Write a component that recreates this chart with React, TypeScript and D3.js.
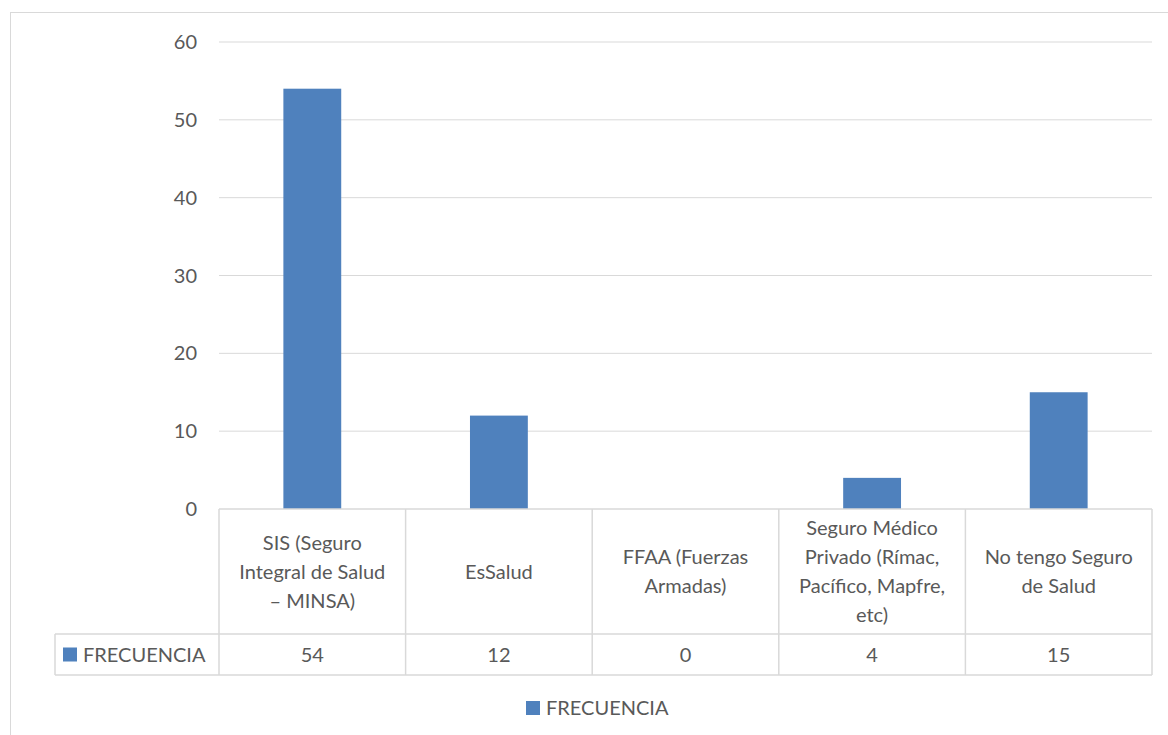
import * as React from "react";
import { scaleBand, scaleLinear } from "d3";

const categories = [
  ["SIS (Seguro", "Integral de Salud", "– MINSA)"],
  ["EsSalud"],
  ["FFAA (Fuerzas", "Armadas)"],
  ["Seguro Médico", "Privado (Rímac,", "Pacífico, Mapfre,", "etc)"],
  ["No tengo Seguro", "de Salud"],
];
const seriesName = "FRECUENCIA";
const values = [54, 12, 0, 4, 15];
const yTicks = [0, 10, 20, 30, 40, 50, 60];

const W = 1168;
const H = 735;
const left = 219;
const right = 1152;
const top = 42;
const bottom = 509;
const catRowBottom = 634;
const valRowBottom = 675;
const keyLeft = 55;

const barColor = "#4f81bd";
const gridColor = "#d9d9d9";
const textColor = "#595959";
const font = "Lato, 'Open Sans', sans-serif";
const fs = 20;

const App = () => {
  const x = scaleBand()
    .domain(categories.map((_, i) => `${i}`))
    .range([left, right])
    .paddingInner(0)
    .paddingOuter(0);
  const y = scaleLinear().domain([0, 60]).range([bottom, top]);
  const bw = x.bandwidth();
  const barW = bw * 0.31;
  const lineH = 29;
  const catMid = (bottom + catRowBottom) / 2;
  const valMid = (catRowBottom + valRowBottom) / 2;

  return (
    <svg
      width={W}
      height={H}
      style={{ position: "absolute", left: 0, top: 0, fontFamily: font }}
    >
      <rect x={0} y={0} width={W} height={H} fill="white" />
      <rect x={10.5} y={12.5} width={W + 20} height={H + 20} fill="none" stroke={gridColor} />

      {yTicks.map((t) => (
        <g key={t}>
          {t > 0 && (
            <line x1={left} x2={right} y1={y(t)} y2={y(t)} stroke={gridColor} strokeWidth={1} />
          )}
          <text
            x={197}
            y={y(t)}
            dy="0.35em"
            textAnchor="end"
            fontSize={fs}
            fill={textColor}
          >
            {t}
          </text>
        </g>
      ))}

      {values.map((v, i) => {
        const cx = (x(`${i}`) as number) + bw / 2;
        return (
          <rect
            key={i}
            x={cx - barW / 2}
            y={y(v)}
            width={barW}
            height={bottom - y(v)}
            fill={barColor}
          />
        );
      })}

      {/* data table */}
      <g stroke={gridColor} strokeWidth={1.5} fill="none">
        <line x1={left} x2={right} y1={bottom} y2={bottom} />
        <line x1={keyLeft} x2={right} y1={catRowBottom} y2={catRowBottom} />
        <line x1={keyLeft} x2={right} y1={valRowBottom} y2={valRowBottom} />
        <line x1={keyLeft} x2={keyLeft} y1={catRowBottom} y2={valRowBottom} />
        {categories.map((_, i) => (
          <line
            key={i}
            x1={x(`${i}`) as number}
            x2={x(`${i}`) as number}
            y1={bottom}
            y2={valRowBottom}
          />
        ))}
        <line x1={right} x2={right} y1={bottom} y2={valRowBottom} />
      </g>

      {categories.map((lines, i) => {
        const cx = (x(`${i}`) as number) + bw / 2;
        const start = catMid - ((lines.length - 1) * lineH) / 2;
        return (
          <g key={i}>
            {lines.map((ln, j) => (
              <text
                key={j}
                x={cx}
                y={start + j * lineH}
                dy="0.35em"
                textAnchor="middle"
                fontSize={fs}
                fill={textColor}
              >
                {ln}
              </text>
            ))}
            <text
              x={cx}
              y={valMid}
              dy="0.35em"
              textAnchor="middle"
              fontSize={fs}
              fill={textColor}
            >
              {values[i]}
            </text>
          </g>
        );
      })}

      <rect x={63} y={valMid - 7} width={14} height={14} fill={barColor} />
      <text x={83} y={valMid} dy="0.35em" fontSize={fs} fill={textColor}>
        {seriesName}
      </text>

      {/* legend */}
      <rect x={526} y={701} width={14} height={14} fill={barColor} />
      <text x={546} y={708} dy="0.35em" fontSize={fs} fill={textColor}>
        {seriesName}
      </text>
    </svg>
  );
};

export default App;
